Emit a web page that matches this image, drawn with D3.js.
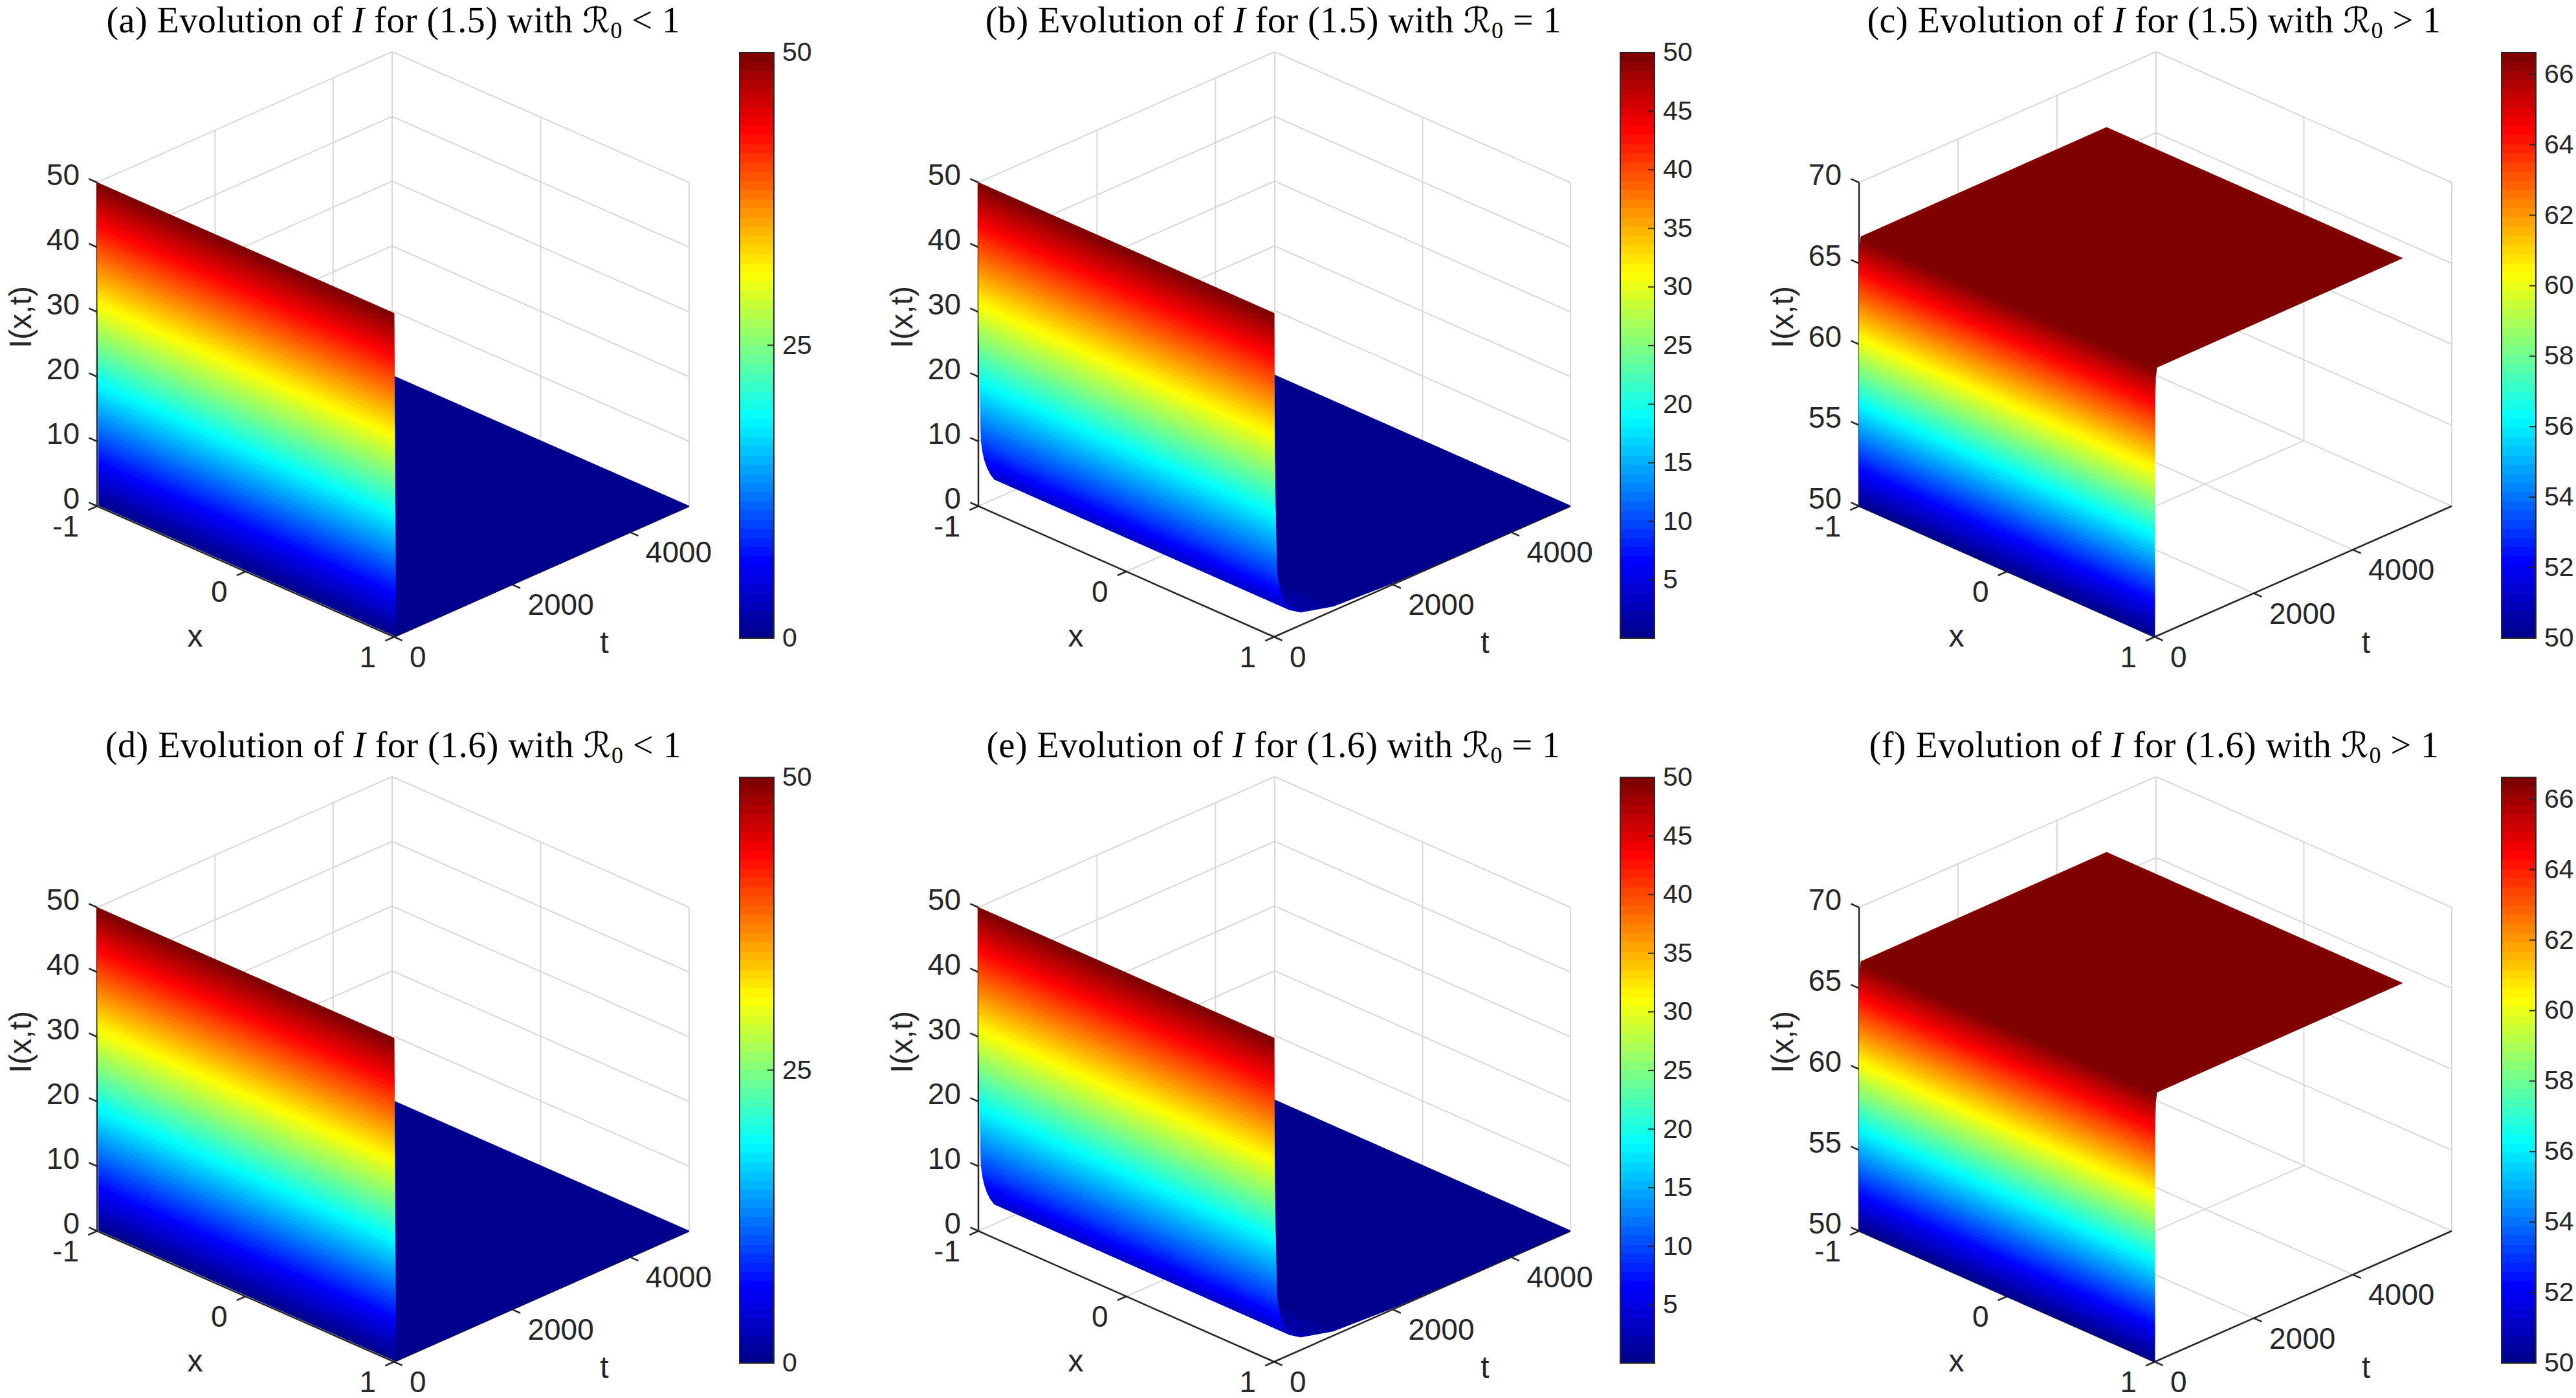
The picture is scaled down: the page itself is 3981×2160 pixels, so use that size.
<!DOCTYPE html>
<html>
<head>
<meta charset="utf-8">
<script src="https://cdn.jsdelivr.net/npm/d3@7"></script>
<style>
  html, body { margin: 0; padding: 0; background: #fff; }
  text { font-family: "Liberation Sans", sans-serif; fill: #262626; }
  .title, .title text { font-family: "Liberation Serif", serif; fill: #000; }
</style>
</head>
<body>
<svg id="chart" width="3981" height="2160"></svg>
<script>
// I(t) profiles read off the walls, the surfaces do not change with x
const tLow = [0, 30, 5000];
const iLow = [50, 0, 0];
const tCritical = [0, 4, 10, 22, 46, 75, 105, 150, 200, 266, 450, 1000, 2000, 3000, 5000];
const iCritical = [50, 36, 28, 20, 10, 8, 6.7, 5.3, 4.2, 3.1, 2, 0.7, 0.2, 0.1, 0.05];
const tHigh = [0, 2, 6, 15, 40, 5000];
const iHigh = [50, 60, 64.5, 66, 66.6, 66.67];

// axes
const xTicks = [-1, 0, 1];
const tTicks = [0, 2000, 4000];
const zTicksLow = [0, 10, 20, 30, 40, 50];
const zTicksHigh = [50, 55, 60, 65, 70];
const barTicksLow = [0, 25, 50];
const barTicksCritical = [5, 10, 15, 20, 25, 30, 35, 40, 45, 50];
const barTicksHigh = [50, 52, 54, 56, 58, 60, 62, 64, 66];

const letters = ['a', 'b', 'c', 'd', 'e', 'f'];
const equations = ['1.5', '1.5', '1.5', '1.6', '1.6', '1.6'];
const relations = ['< 1', '= 1', '> 1', '< 1', '= 1', '> 1'];

const kinds = [
    { t: tLow, i: iLow, tMax: 5000, z: [0, 50], zTicks: zTicksLow, bar: [0, 50], barTicks: barTicksLow },
    { t: tCritical, i: iCritical, tMax: 5000, z: [0, 50], zTicks: zTicksLow, bar: [0.05, 50], barTicks: barTicksCritical },
    { t: tHigh, i: iHigh, tMax: 6000, z: [50, 70], zTicks: zTicksHigh, bar: [50, 66.62], barTicks: barTicksHigh }
];

// box corners in pixels for each column, the rows share them
const columns = [
    { left: 150, front: 609, right: 1065, barX: 1143 },
    { left: 1512, front: 1969, right: 2427, barX: 2504 },
    { left: 2873, front: 3330, right: 3789, barX: 3866 }
];
const rowOffset = 1120;
const zTopY = 282, zBottomY = 782, slopeY = 202;
const barTopY = 81, barBottomY = 986, barWidth = 53;

const ink = '#262626';
const gridColor = '#d8d8d8';

// matlab jet, 64 flat levels
const jet = d3.scaleLinear()
    .domain([0, 1 / 8, 3 / 8, 5 / 8, 7 / 8, 1])
    .range(['#00008f', '#0000ff', '#00ffff', '#ffff00', '#ff0000', '#800000']);
const LEVELS = 64;

const svg = d3.select('#chart');

function drawPanel(index) {
    const kind = kinds[index % 3];
    const col = columns[index % 3];
    const rowY = index < 3 ? 0 : rowOffset;
    const g = svg.append('g').attr('transform', `translate(0, ${rowY})`);

    const xs = d3.scaleLinear().domain([-1, 1]).range([0, col.front - col.left]);
    const ts = d3.scaleLinear().domain([0, kind.tMax]).range([0, col.right - col.front]);
    const tSlope = d3.scaleLinear().domain([0, kind.tMax]).range([0, -slopeY]);
    const xSlope = d3.scaleLinear().domain([-1, 1]).range([0, slopeY]);
    const zs = d3.scaleLinear().domain(kind.z).range([zBottomY, zTopY]);

    const project = (x, t, z) => [col.left + xs(x) + ts(t), zs(z) + xSlope(x) + tSlope(t)];
    const line = (a, b, color, w) => g.append('line')
        .attr('x1', a[0]).attr('y1', a[1]).attr('x2', b[0]).attr('y2', b[1])
        .attr('stroke', color).attr('stroke-width', w);

    const [z0, z1] = kind.z;
    const tEnd = kind.tMax;

    // the walls and floor of the box
    kind.zTicks.forEach(z => {
        line(project(-1, 0, z), project(-1, tEnd, z), gridColor, 2);
        line(project(-1, tEnd, z), project(1, tEnd, z), gridColor, 2);
    });
    line(project(-1, tEnd, z0), project(-1, tEnd, z1), gridColor, 2);
    line(project(1, tEnd, z0), project(1, tEnd, z1), gridColor, 2);
    tTicks.slice(1).forEach(t => {
        line(project(-1, t, z0), project(-1, t, z1), gridColor, 2);
        line(project(-1, t, z0), project(1, t, z0), gridColor, 2);
    });
    line(project(0, tEnd, z0), project(0, tEnd, z1), gridColor, 2);
    line(project(0, 0, z0), project(0, tEnd, z0), gridColor, 2);

    // axes and ticks
    line(project(-1, 0, z0), project(-1, 0, z1), ink, 2.5);
    line(project(-1, 0, z0), project(1, 0, z0), ink, 2.5);
    line(project(1, 0, z0), project(1, tEnd, z0), ink, 2.5);

    kind.zTicks.forEach(z => {
        line(project(-1, 0, z), project(-1.055, 0, z), ink, 2.5);
        const p = project(-1, 0, z);
        g.append('text').attr('x', p[0] - 27).attr('y', p[1] + 4)
            .attr('text-anchor', 'end').attr('font-size', 46).text(z);
    });
    xTicks.forEach(x => {
        line(project(x, 0, z0), project(x, -tEnd * 0.03, z0), ink, 2.5);
        const p = project(x, 0, z0);
        g.append('text').attr('x', p[0] - 28).attr('y', p[1] + 47)
            .attr('text-anchor', 'end').attr('font-size', 46).text(x);
    });
    tTicks.forEach(t => {
        line(project(1, t, z0), project(1.055, t, z0), ink, 2.5);
        const p = project(1, t, z0);
        g.append('text').attr('x', p[0] + 24).attr('y', p[1] + 47)
            .attr('font-size', 46).text(t);
    });

    // axis labels
    const xLab = project(0, 0, z0);
    g.append('text').attr('x', xLab[0] - 78).attr('y', xLab[1] + 116)
        .attr('text-anchor', 'middle').attr('font-size', 48).text('x');
    const tLab = project(1, tEnd / 2, z0);
    g.append('text').attr('x', tLab[0] + 97).attr('y', tLab[1] + 126)
        .attr('text-anchor', 'middle').attr('font-size', 48).text('t');
    const zLabX = col.left - 102;
    g.append('text').attr('transform', `translate(${zLabX}, 490) rotate(-90)`)
        .attr('text-anchor', 'middle').attr('font-size', 48).text('I(x,t)');

    // surface, far strips first, split where the colour level changes
    const [lo, hi] = kind.bar;
    const levelOf = v => Math.max(0, Math.min(LEVELS - 1, Math.floor((v - lo) / (hi - lo) * LEVELS)));
    const colorOf = k => jet(k / (LEVELS - 1));
    const strip = (ta, za, tb, zb, color) => {
        const pts = [project(-1, ta, za), project(1, ta, za), project(1, tb, zb), project(-1, tb, zb)];
        g.append('polygon').attr('points', pts.join(' '))
            .attr('fill', color).attr('stroke', color).attr('stroke-width', 1);
    };
    const surface = d3.range(kind.t.length - 1).reverse();
    surface.forEach(s => {
        const t0 = kind.t[s], t1 = kind.t[s + 1], v0 = kind.i[s], v1 = kind.i[s + 1];
        const k0 = levelOf(v0), k1 = levelOf(v1);
        if (k0 === k1) {
            strip(t0, v0, t1, v1, colorOf(k0));
            return;
        }
        const along = d3.scaleLinear().domain([v0, v1]).range([t0, t1]);
        // walk from the far end of the strip to the near end
        const step = k0 > k1 ? 1 : -1;
        for (let k = k1; k !== k0 + step; k += step) {
            const a = Math.max(Math.min(v0, v1), lo + k * (hi - lo) / LEVELS);
            const b = Math.min(Math.max(v0, v1), lo + (k + 1) * (hi - lo) / LEVELS);
            strip(along(a), a, along(b), b, colorOf(k));
        }
    });

    // colour bar
    const bar = d3.scaleLinear().domain(kind.bar).range([barBottomY, barTopY]);
    d3.range(LEVELS).forEach(k => {
        const a = lo + k * (hi - lo) / LEVELS, b = lo + (k + 1) * (hi - lo) / LEVELS;
        g.append('rect').attr('x', col.barX).attr('y', bar(b))
            .attr('width', barWidth).attr('height', bar(a) - bar(b) + 0.6)
            .attr('fill', colorOf(k));
    });
    g.append('rect').attr('x', col.barX).attr('y', barTopY)
        .attr('width', barWidth).attr('height', barBottomY - barTopY)
        .attr('fill', 'none').attr('stroke', ink).attr('stroke-width', 2);
    kind.barTicks.forEach(v => {
        const y = bar(v);
        line([col.barX + barWidth - 10, y], [col.barX + barWidth, y], ink, 2);
        g.append('text').attr('x', col.barX + barWidth + 13).attr('y', y + 13)
            .attr('font-size', 41).text(v);
    });

    // title
    const title = g.append('text').attr('class', 'title')
        .attr('x', col.front - 1).attr('y', 50)
        .attr('text-anchor', 'middle').attr('font-size', 56)
        .attr('letter-spacing', 0.5);
    title.append('tspan').text(`(${letters[index]}) Evolution of `);
    title.append('tspan').attr('font-style', 'italic').text('I');
    title.append('tspan').text(` for (${equations[index]}) with `);
    title.append('tspan').attr('font-family', '"DejaVu Sans"').attr('font-size', 54).text('\u211B');
    title.append('tspan').attr('font-size', 36).attr('dy', 9).text('0');
    title.append('tspan').attr('dy', -9).text(` ${relations[index]}`);
}

d3.range(6).forEach(drawPanel);
</script>
</body>
</html>
